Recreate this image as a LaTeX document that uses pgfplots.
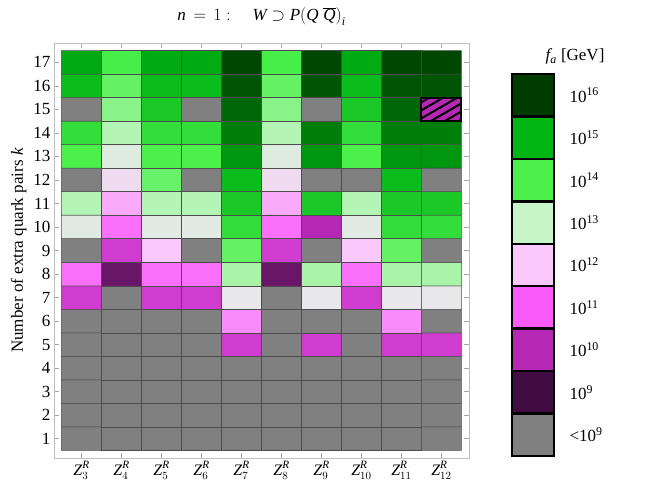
\documentclass[border=0pt]{standalone}
\usepackage{fontspec}
\setmainfont{Liberation Serif}
\usepackage{pgfplots}
\pgfplotsset{compat=1.18}
\usetikzlibrary{patterns.meta}

% legend colours, one per decade of f_a
\definecolor{cg}{RGB}{128,128,128}
\definecolor{c9}{RGB}{65,12,65}
\definecolor{c10}{RGB}{180,40,180}
\definecolor{c11}{RGB}{250,90,250}
\definecolor{c12}{RGB}{250,200,250}
\definecolor{c13}{RGB}{200,245,200}
\definecolor{c14}{RGB}{75,240,75}
\definecolor{c15}{RGB}{0,180,20}
\definecolor{c16}{RGB}{0,60,0}

\begin{document}
\begin{tikzpicture}[x=1pt,y=1pt]
\path[use as bounding box] (-54,-33) rectangle (595,458);

\begin{axis}[at={(0,0)}, anchor=south west,
  width=415pt, height=415pt, scale only axis,
  font=\fontsize{17}{20}\selectfont,
  xmin=-0.6875, xmax=9.6875, ymin=0.18, ymax=17.82,
  xtick={0,...,9},
  xticklabels={$\mathit{Z}_{3}^{\mathit{R}}$,$\mathit{Z}_{4}^{\mathit{R}}$,$\mathit{Z}_{5}^{\mathit{R}}$,$\mathit{Z}_{6}^{\mathit{R}}$,$\mathit{Z}_{7}^{\mathit{R}}$,$\mathit{Z}_{8}^{\mathit{R}}$,$\mathit{Z}_{9}^{\mathit{R}}$,$\mathit{Z}_{10}^{\mathit{R}}$,$\mathit{Z}_{11}^{\mathit{R}}$,$\mathit{Z}_{12}^{\mathit{R}}$},
  xticklabel style={font=\fontsize{16}{18}\selectfont},
  ytick={1,...,17},
  /pgf/number format/assume math mode=true,
  tick align=inside, major tick length=5pt,
  axis line style={black!25}, tick style={black!35, line width=0.6pt},
  ylabel={Number of extra quark pairs \textit{k}},
  title={$\mathit{n}\,=\,1:\quad \mathit{W}\supset \mathit{P}\bigl(\mathit{Q}\;\overline{\mathit{Q}}\bigr)_{\mathit{i}}$},
  title style={yshift=8pt},
  colormap={fa}{rgb255(0pt)=(128,128,128); rgb255(99pt)=(128,128,128);
    rgb255(100pt)=(65,12,65); rgb255(200pt)=(180,40,180); rgb255(300pt)=(250,90,250);
    rgb255(400pt)=(250,200,250); rgb255(450pt)=(232,232,234); rgb255(500pt)=(200,245,200);
    rgb255(600pt)=(75,240,75); rgb255(700pt)=(0,180,20); rgb255(800pt)=(0,60,0)},
  point meta min=8, point meta max=16,
]
% log10(f_a/GeV) per cell, 8 = below 10^9 (grey); one line per k, columns Z3..Z12
\addplot[matrix plot*, y dir=normal, mesh/cols=10, point meta=explicit,
  shader=faceted, faceted color=black!70, line width=0.5pt] coordinates {
(0,1)[8] (1,1)[8] (2,1)[8] (3,1)[8] (4,1)[8] (5,1)[8] (6,1)[8] (7,1)[8] (8,1)[8] (9,1)[8]

(0,2)[8] (1,2)[8] (2,2)[8] (3,2)[8] (4,2)[8] (5,2)[8] (6,2)[8] (7,2)[8] (8,2)[8] (9,2)[8]

(0,3)[8] (1,3)[8] (2,3)[8] (3,3)[8] (4,3)[8] (5,3)[8] (6,3)[8] (7,3)[8] (8,3)[8] (9,3)[8]

(0,4)[8] (1,4)[8] (2,4)[8] (3,4)[8] (4,4)[8] (5,4)[8] (6,4)[8] (7,4)[8] (8,4)[8] (9,4)[8]

(0,5)[8] (1,5)[8] (2,5)[8] (3,5)[8] (4,5)[10.4] (5,5)[8] (6,5)[10.4] (7,5)[8] (8,5)[10.4] (9,5)[10.4]

(0,6)[8] (1,6)[8] (2,6)[8] (3,6)[8] (4,6)[11.45] (5,6)[8] (6,6)[8] (7,6)[8] (8,6)[11.45] (9,6)[8]

(0,7)[10.4] (1,7)[8] (2,7)[10.4] (3,7)[10.4] (4,7)[12.5] (5,7)[8] (6,7)[12.5] (7,7)[10.4] (8,7)[12.5] (9,7)[12.5]

(0,8)[11.2] (1,8)[9.35] (2,8)[11.2] (3,8)[11.2] (4,8)[13.24] (5,8)[9.35] (6,8)[13.24] (7,8)[11.2] (8,8)[13.24] (9,8)[13.24]

(0,9)[8] (1,9)[10.4] (2,9)[12.0] (3,9)[8] (4,9)[13.8] (5,9)[10.4] (6,9)[8] (7,9)[12.0] (8,9)[13.8] (9,9)[8]

(0,10)[12.6] (1,10)[11.2] (2,10)[12.6] (3,10)[12.6] (4,10)[14.3] (5,10)[11.2] (6,10)[10.0] (7,10)[12.6] (8,10)[14.3] (9,10)[14.3]

(0,11)[13.16] (1,11)[11.73] (2,11)[13.16] (3,11)[13.16] (4,11)[14.65] (5,11)[11.73] (6,11)[14.65] (7,11)[13.16] (8,11)[14.65] (9,11)[14.65]

(0,12)[8] (1,12)[12.3] (2,12)[13.75] (3,12)[8] (4,12)[14.85] (5,12)[12.3] (6,12)[8] (7,12)[8] (8,12)[14.85] (9,12)[8]

(0,13)[14.0] (1,13)[12.65] (2,13)[14.0] (3,13)[14.0] (4,13)[15.25] (5,13)[12.65] (6,13)[15.25] (7,13)[14.0] (8,13)[15.25] (9,13)[15.25]

(0,14)[14.3] (1,14)[13.16] (2,14)[14.3] (3,14)[14.3] (4,14)[15.45] (5,14)[13.16] (6,14)[15.45] (7,14)[14.3] (8,14)[15.45] (9,14)[15.45]

(0,15)[8] (1,15)[13.5] (2,15)[14.65] (3,15)[8] (4,15)[15.65] (5,15)[13.5] (6,15)[8] (7,15)[14.65] (8,15)[15.65] (9,15)[10.0]

(0,16)[14.85] (1,16)[13.8] (2,16)[14.85] (3,16)[14.85] (4,16)[15.8] (5,16)[13.8] (6,16)[15.8] (7,16)[14.85] (8,16)[15.8] (9,16)[15.8]

(0,17)[15.08] (1,17)[14.05] (2,17)[15.08] (3,17)[15.08] (4,17)[15.9] (5,17)[14.05] (6,17)[15.9] (7,17)[15.08] (8,17)[15.9] (9,17)[15.9]
};
% hatched cell (Z12, k=15)
\addplot[fill=c10, draw=black, line width=2pt,
  postaction={pattern={Lines[angle=30,distance=7pt,line width=2pt]}}]
  coordinates {(8.5,14.5) (9.5,14.5) (9.5,15.5) (8.5,15.5)} --cycle;
\end{axis}

% discrete colour key
\begin{axis}[at={(458pt,2pt)}, anchor=south west,
  width=42pt, height=382pt, scale only axis,
  font=\fontsize{17}{20}\selectfont,
  xmin=0, xmax=1, ymin=0, ymax=9, clip=false,
  axis line style={draw=none}, xtick=\empty,
  ytick={0.5,1.5,...,8.5}, major tick length=0pt,
  yticklabels={{<10\textsuperscript{9}},10\textsuperscript{9},10\textsuperscript{10},10\textsuperscript{11},10\textsuperscript{12},10\textsuperscript{13},10\textsuperscript{14},10\textsuperscript{15},10\textsuperscript{16}},
  yticklabel pos=right, yticklabel style={anchor=west, xshift=12pt},
  title={$\mathit{f}_{\mathit{a}}$ [GeV]}, title style={xshift=42pt},
]
\addplot[fill=cg,  draw=black, line width=2.5pt] coordinates {(0,0) (1,0) (1,1) (0,1)} --cycle;
\addplot[fill=c9,  draw=black, line width=2.5pt] coordinates {(0,1) (1,1) (1,2) (0,2)} --cycle;
\addplot[fill=c10, draw=black, line width=2.5pt] coordinates {(0,2) (1,2) (1,3) (0,3)} --cycle;
\addplot[fill=c11, draw=black, line width=2.5pt] coordinates {(0,3) (1,3) (1,4) (0,4)} --cycle;
\addplot[fill=c12, draw=black, line width=2.5pt] coordinates {(0,4) (1,4) (1,5) (0,5)} --cycle;
\addplot[fill=c13, draw=black, line width=2.5pt] coordinates {(0,5) (1,5) (1,6) (0,6)} --cycle;
\addplot[fill=c14, draw=black, line width=2.5pt] coordinates {(0,6) (1,6) (1,7) (0,7)} --cycle;
\addplot[fill=c15, draw=black, line width=2.5pt] coordinates {(0,7) (1,7) (1,8) (0,8)} --cycle;
\addplot[fill=c16, draw=black, line width=2.5pt] coordinates {(0,8) (1,8) (1,9) (0,9)} --cycle;
\end{axis}
\end{tikzpicture}
\end{document}
